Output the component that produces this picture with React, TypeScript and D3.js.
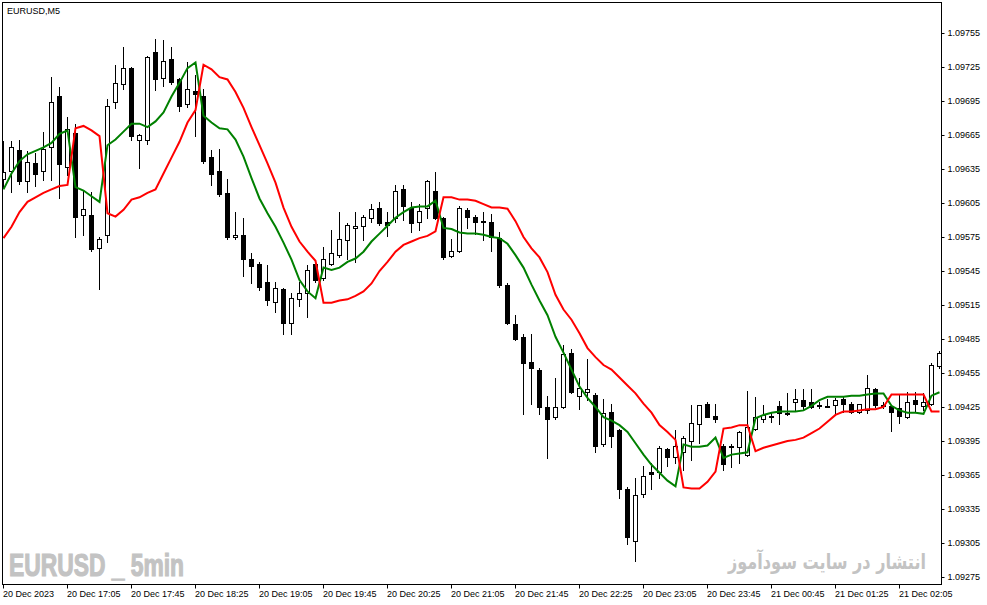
import { useEffect, useRef } from "react";
import * as d3 from "d3";

// EURUSD M5 candles, one entry per bar (left to right)
const open = [
  1.09626, 1.09633, 1.09652, 1.09624, 1.0964, 1.09633, 1.09654, 1.09699, 1.09637, 1.09667,
  1.09594, 1.09594, 1.09565, 1.09577, 1.09694, 1.0971, 1.09724, 1.09661, 1.09661, 1.09738,
  1.09715, 1.09732, 1.09714, 1.09692, 1.09704, 1.09699, 1.09646, 1.09633, 1.09614, 1.09575,
  1.09577, 1.09556, 1.09551, 1.09535, 1.09518, 1.09529, 1.09499, 1.0952, 1.09526, 1.09551,
  1.09539, 1.09551, 1.09559, 1.09572, 1.09583, 1.09585, 1.09592, 1.09601, 1.09588, 1.09592,
  1.09617, 1.09601, 1.09588, 1.09601, 1.09616, 1.09592, 1.09558, 1.09563, 1.09599, 1.09593,
  1.09589, 1.09588, 1.09574, 1.09533, 1.09498, 1.09487, 1.09465, 1.09458, 1.09425, 1.09416,
  1.09425, 1.09473, 1.09435, 1.09438, 1.09436, 1.09392, 1.09421, 1.09405, 1.09353, 1.09307,
  1.09348, 1.09368, 1.09368, 1.09388, 1.09381, 1.09385, 1.09395, 1.0941, 1.09428, 1.09417,
  1.09391, 1.09391, 1.0939, 1.09383, 1.09406, 1.09414, 1.09417, 1.09426, 1.0942, 1.09429,
  1.09431, 1.09429, 1.09427, 1.09426, 1.09427, 1.09432, 1.09428, 1.09421, 1.09422, 1.09441,
  1.09427, 1.09426, 1.09424, 1.09416, 1.09431, 1.09426, 1.09428, 1.09461,
];
const high = [
  1.0966, 1.0966, 1.09661, 1.09651, 1.09649, 1.09668, 1.09716, 1.09707, 1.09681, 1.09675,
  1.09616, 1.09615, 1.09575, 1.09697, 1.09727, 1.09743, 1.09725, 1.09666, 1.09735, 1.0975,
  1.09749, 1.09743, 1.09715, 1.09729, 1.09718, 1.09706, 1.09652, 1.09653, 1.09626, 1.09597,
  1.09592, 1.09561, 1.09553, 1.0955, 1.09535, 1.0953, 1.09526, 1.09535, 1.0955, 1.09552,
  1.09566, 1.09581, 1.09597, 1.09587, 1.09597, 1.09594, 1.09604, 1.09606, 1.09597, 1.09621,
  1.09621, 1.09606, 1.09604, 1.09625, 1.09632, 1.09593, 1.09573, 1.09602, 1.09601, 1.09594,
  1.09597, 1.09595, 1.09579, 1.09534, 1.09506, 1.09489, 1.09489, 1.09459, 1.09435, 1.09451,
  1.0948, 1.09476, 1.09451, 1.09467, 1.09437, 1.09432, 1.09428, 1.09406, 1.09354, 1.09362,
  1.09373, 1.09376, 1.09391, 1.09389, 1.09405, 1.09399, 1.09427, 1.09427, 1.09429, 1.09428,
  1.09392, 1.09392, 1.09404, 1.09439, 1.09434, 1.09427, 1.09421, 1.0943, 1.09437, 1.09441,
  1.09441, 1.09441, 1.09429, 1.09432, 1.09433, 1.09434, 1.09429, 1.09428, 1.09453, 1.09442,
  1.09429, 1.09427, 1.09436, 1.09438, 1.09438, 1.09437, 1.09464, 1.09474,
];
const low = [
  1.09619, 1.09615, 1.09622, 1.09615, 1.0962, 1.09625, 1.09625, 1.09609, 1.0963, 1.09575,
  1.09577, 1.09563, 1.09529, 1.09571, 1.09689, 1.09706, 1.09661, 1.09636, 1.09657, 1.09705,
  1.09708, 1.0971, 1.09686, 1.0969, 1.09664, 1.0964, 1.09621, 1.09611, 1.09573, 1.09573,
  1.09541, 1.09534, 1.09528, 1.09515, 1.09509, 1.09489, 1.09489, 1.09514, 1.09504, 1.09535,
  1.09537, 1.0955, 1.09557, 1.09556, 1.09553, 1.09572, 1.09588, 1.09586, 1.09576, 1.09588,
  1.0959, 1.09579, 1.09581, 1.09592, 1.09591, 1.09556, 1.09557, 1.09562, 1.09583, 1.09578,
  1.09572, 1.09563, 1.09531, 1.09498, 1.09484, 1.09419, 1.09428, 1.09419, 1.0938, 1.09414,
  1.09424, 1.09437, 1.09423, 1.09431, 1.09385, 1.09391, 1.0939, 1.09345, 1.09304, 1.09289,
  1.09346, 1.09353, 1.09362, 1.09373, 1.09376, 1.09369, 1.09378, 1.09393, 1.09416, 1.09412,
  1.09369, 1.09372, 1.09376, 1.09382, 1.09405, 1.09412, 1.09412, 1.0941, 1.09418, 1.09422,
  1.09422, 1.09424, 1.09424, 1.09425, 1.0942, 1.09421, 1.0942, 1.0942, 1.0942, 1.09425,
  1.09424, 1.09404, 1.09411, 1.09415, 1.09421, 1.09422, 1.09427, 1.09459,
];
const close = [
  1.09632, 1.09654, 1.09624, 1.09641, 1.09631, 1.09653, 1.09694, 1.09639, 1.0967, 1.09593,
  1.096, 1.09564, 1.09573, 1.09691, 1.09711, 1.09724, 1.09664, 1.09665, 1.09734, 1.09714,
  1.0973, 1.09712, 1.09691, 1.09706, 1.09701, 1.09642, 1.09631, 1.09613, 1.09575, 1.09577,
  1.09556, 1.09549, 1.09531, 1.09519, 1.0953, 1.09499, 1.09521, 1.09526, 1.09546, 1.09537,
  1.09556, 1.09561, 1.09573, 1.09586, 1.09585, 1.09593, 1.096, 1.09587, 1.09586, 1.09616,
  1.09602, 1.09587, 1.09598, 1.09624, 1.09592, 1.09557, 1.09563, 1.09601, 1.09593, 1.09588,
  1.09588, 1.09575, 1.09533, 1.09499, 1.09485, 1.09464, 1.09459, 1.09425, 1.09414, 1.09425,
  1.09472, 1.09438, 1.09442, 1.09441, 1.09391, 1.0942, 1.09399, 1.09353, 1.0931, 1.09347,
  1.09364, 1.09366, 1.09389, 1.09381, 1.09391, 1.09398, 1.09411, 1.09427, 1.09416, 1.09414,
  1.09375, 1.0939, 1.09403, 1.09407, 1.09416, 1.09418, 1.09416, 1.0942, 1.09419, 1.09432,
  1.09426, 1.09425, 1.09426, 1.09425, 1.09431, 1.09428, 1.09421, 1.09428, 1.09442, 1.09427,
  1.09426, 1.09421, 1.09417, 1.09429, 1.09428, 1.09429, 1.09462, 1.09473,
];

// indicator lines (green / red channel)
const greenLine = [
  1.09617, 1.09631, 1.09642, 1.09648, 1.09651, 1.09654, 1.09658, 1.09666, 1.09669, 1.09619,
  1.09616, 1.09611, 1.09606, 1.09656, 1.09661, 1.09668, 1.09675, 1.09675, 1.09672, 1.09677,
  1.09685, 1.09699, 1.09711, 1.09724, 1.09729, 1.09682, 1.09676, 1.09671, 1.0967, 1.09661,
  1.09646, 1.09627, 1.09609, 1.09596, 1.09584, 1.0957, 1.09555, 1.09537, 1.09527, 1.09521,
  1.09548, 1.09546, 1.09548, 1.09553, 1.09556, 1.09562, 1.09571, 1.09578, 1.09585, 1.09592,
  1.09597, 1.09601, 1.09602, 1.09602, 1.09607, 1.09583, 1.09582, 1.09579, 1.09578, 1.09578,
  1.09577, 1.09575, 1.09574, 1.09569, 1.09559, 1.09548, 1.09533, 1.09519, 1.09506, 1.09487,
  1.09473, 1.09458, 1.09443, 1.09433, 1.09425, 1.09416, 1.09413, 1.09409, 1.09403, 1.09393,
  1.09383, 1.09374, 1.09367, 1.0936, 1.09355, 1.09392, 1.0939, 1.0939, 1.09391, 1.09398,
  1.0938, 1.09383, 1.09384, 1.09385, 1.09415, 1.09418, 1.0942, 1.09421, 1.09421, 1.09421,
  1.09422, 1.09426, 1.09431, 1.09434, 1.09434, 1.09434, 1.09435, 1.09435, 1.09436, 1.09437,
  1.09437, 1.09426, 1.09422, 1.0942, 1.0942, 1.09419, 1.09435, 1.09438,
];
const redLine = [
  1.09574, 1.09584, 1.09597, 1.09606, 1.0961, 1.09614, 1.09617, 1.0962, 1.09621, 1.09671,
  1.09673, 1.09669, 1.09664, 1.09596, 1.09593, 1.09599, 1.09608, 1.0961, 1.09614, 1.09617,
  1.09631, 1.09645, 1.09659, 1.09676, 1.09687, 1.09727, 1.09723, 1.09716, 1.09714, 1.09703,
  1.09689, 1.09672, 1.09656, 1.0964, 1.09623, 1.09601, 1.09584, 1.09571, 1.09562, 1.09554,
  1.09517, 1.09517, 1.09519, 1.0952, 1.09523, 1.09527, 1.09534, 1.09545, 1.09553, 1.09562,
  1.09568, 1.09571, 1.09574, 1.09576, 1.0958, 1.0961, 1.0961, 1.09608, 1.09608, 1.09607,
  1.09604, 1.09601, 1.09601, 1.096, 1.09589, 1.09575, 1.09565, 1.09557, 1.09544, 1.09524,
  1.09511, 1.09502, 1.0949, 1.09477, 1.09469, 1.09462, 1.09458, 1.09451, 1.09444, 1.09437,
  1.09428, 1.0942, 1.09409, 1.09403, 1.09396, 1.09354, 1.09353, 1.09353, 1.09359, 1.09368,
  1.09406, 1.09407, 1.09409, 1.09409, 1.09386, 1.09389, 1.09391, 1.09393, 1.09395, 1.09396,
  1.09398, 1.09402, 1.09406, 1.09412, 1.09418, 1.09421, 1.09421, 1.09422, 1.09423, 1.09423,
  1.09425, 1.09436, 1.09436, 1.09436, 1.09436, 1.09436, 1.09421, 1.09421,
];

const priceTicks = [
  1.09755, 1.09725, 1.09695, 1.09665, 1.09635, 1.09605, 1.09575, 1.09545, 1.09515,
  1.09485, 1.09455, 1.09425, 1.09395, 1.09365, 1.09335, 1.09305, 1.09275,
];
const timeTickBars = [0, 8, 16, 24, 32, 40, 48, 56, 64, 72, 80, 88, 96, 104, 112];
const timeTickLabels = [
  "20 Dec 2023", "20 Dec 17:05", "20 Dec 17:45", "20 Dec 18:25", "20 Dec 19:05",
  "20 Dec 19:45", "20 Dec 20:25", "20 Dec 21:05", "20 Dec 21:45", "20 Dec 22:25",
  "20 Dec 23:05", "20 Dec 23:45", "21 Dec 00:45", "21 Dec 01:25", "21 Dec 02:05",
];

const W = 987;
const H = 605;
const FONT = "'Liberation Sans', Arial, sans-serif";
const MARK = "#c3c3c3";

export default function App() {
  const svgRef = useRef<SVGSVGElement | null>(null);

  useEffect(() => {
    if (!svgRef.current) return;
    const svg = d3.select(svgRef.current);
    svg.selectAll("*").remove();

    const plot = { left: 2.5, top: 2.5, right: 941.5, bottom: 584.5 };

    const x = d3.scaleLinear().domain([0, open.length - 1]).range([3, 3 + 8 * (open.length - 1)]);
    const y = d3.scaleLinear().domain([1.09275, 1.09755]).range([577, 33]);

    svg
      .append("defs")
      .append("clipPath")
      .attr("id", "plotClip")
      .append("rect")
      .attr("x", 3)
      .attr("y", 3)
      .attr("width", plot.right - 3.5)
      .attr("height", plot.bottom - 3.5);

    // watermarks
    svg
      .append("text")
      .attr("x", 9)
      .attr("y", 576)
      .attr("font-family", "'Liberation Sans Narrow', 'Liberation Sans', Arial, sans-serif")
      .attr("font-weight", "bold")
      .attr("font-size", 31)
      .attr("fill", MARK)
      .attr("stroke", MARK)
      .attr("stroke-width", 1.2)
      .attr("textLength", 175)
      .attr("lengthAdjust", "spacingAndGlyphs")
      .text("EURUSD _ 5min");

    svg
      .append("text")
      .attr("x", 728)
      .attr("y", 569)
      .attr("font-family", "'DejaVu Sans', sans-serif")
      .attr("font-weight", "bold")
      .attr("font-size", 21)
      .attr("fill", MARK)
      .attr("textLength", 198)
      .attr("lengthAdjust", "spacingAndGlyphs")
      .text("انتشار در سایت سودآموز");

    // candles
    const bars = d3.range(open.length);
    const g = svg.append("g").attr("clip-path", "url(#plotClip)");

    g.selectAll("line.wick")
      .data(bars)
      .join("line")
      .attr("class", "wick")
      .attr("x1", (i) => Math.round(x(i)) + 0.5)
      .attr("x2", (i) => Math.round(x(i)) + 0.5)
      .attr("y1", (i) => Math.round(y(high[i])))
      .attr("y2", (i) => Math.round(y(low[i])) + 1)
      .attr("stroke", "#000")
      .attr("stroke-width", 1)
      .attr("shape-rendering", "crispEdges");

    g.selectAll("path.body")
      .data(bars)
      .join("path")
      .attr("class", "body")
      .attr("d", (i) => {
        const cx = Math.round(x(i));
        const top = Math.round(y(Math.max(open[i], close[i])));
        const bot = Math.round(y(Math.min(open[i], close[i])));
        return `M${cx - 1.5},${top + 0.5}h4v${bot - top}h-4Z`;
      })
      .attr("fill", (i) => (close[i] >= open[i] ? "#fff" : "#000"))
      .attr("stroke", "#000")
      .attr("stroke-width", 1)
      .attr("shape-rendering", "crispEdges");

    // indicator lines
    const line = d3
      .line<number>()
      .x((_, i) => x(i) + 0.5)
      .y((d) => y(d));

    g.append("path")
      .datum(greenLine)
      .attr("d", line)
      .attr("fill", "none")
      .attr("stroke", "#008000")
      .attr("stroke-width", 2);

    g.append("path")
      .datum(redLine)
      .attr("d", line)
      .attr("fill", "none")
      .attr("stroke", "#ff0000")
      .attr("stroke-width", 2);

    // frame
    svg
      .append("path")
      .attr("d", `M${plot.left},${plot.bottom}V${plot.top}H${plot.right}V${plot.bottom}Z`)
      .attr("fill", "none")
      .attr("stroke", "#000")
      .attr("stroke-width", 1)
      .attr("shape-rendering", "crispEdges");

    // price axis
    const yAxis = svg
      .append("g")
      .attr("transform", `translate(${plot.right},0)`)
      .call(
        d3
          .axisRight(y)
          .tickValues(priceTicks)
          .tickSize(3)
          .tickPadding(3)
          .tickFormat((d) => d3.format(".5f")(d as number))
      );
    yAxis.select(".domain").remove();
    yAxis.selectAll("line").attr("stroke", "#000");
    yAxis
      .selectAll("text")
      .attr("fill", "#000")
      .attr("font-family", FONT)
      .attr("font-size", 9);

    // time axis
    const xAxis = svg
      .append("g")
      .attr("transform", `translate(0,${plot.bottom})`)
      .call(
        d3
          .axisBottom(x)
          .tickValues(timeTickBars)
          .tickSize(4)
          .tickPadding(2)
          .tickFormat((_, i) => timeTickLabels[i])
      );
    xAxis.select(".domain").remove();
    xAxis.selectAll("line").attr("stroke", "#000");
    xAxis
      .selectAll("text")
      .attr("fill", "#000")
      .attr("text-anchor", "start")
      .attr("x", -0.5)
      .attr("font-family", FONT)
      .attr("font-size", 9);

    // symbol caption
    svg
      .append("text")
      .attr("x", 7)
      .attr("y", 14)
      .attr("font-family", FONT)
      .attr("font-size", 9)
      .attr("fill", "#000")
      .text("EURUSD,M5");
  }, []);

  return (
    <svg
      ref={svgRef}
      width={W}
      height={H}
      style={{ position: "absolute", left: 0, top: 0, background: "#fff" }}
    />
  );
}
